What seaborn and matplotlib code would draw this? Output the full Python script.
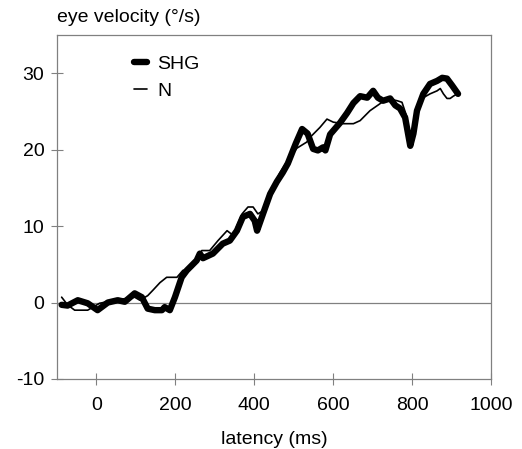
import matplotlib
matplotlib.use("Agg")
import matplotlib.pyplot as plt
import seaborn as sns
import pandas as pd

# SHG (thick) series: latency (ms) and eye velocity (deg/s)
shg_t = [-88, -73, -47, -22, 3, 29, 54, 72, 97, 115, 130, 148, 166, 173, 186, 199,
         216, 229, 254, 262, 270, 295, 320, 338, 356, 371, 389, 401, 407, 422, 440,
         457, 472, 485, 495, 505, 521, 535, 549, 561, 574, 580, 592, 617, 635, 651,
         668, 686, 701, 713, 726, 744, 757, 769, 782, 795, 803, 812, 828, 845, 863,
         876, 888, 901, 916]
shg_v = [-0.3, -0.4, 0.3, -0.1, -1.0, 0.0, 0.3, 0.1, 1.2, 0.7, -0.8, -1.0, -1.0, -0.6,
         -1.0, 0.7, 3.3, 4.2, 5.5, 6.4, 5.8, 6.4, 7.7, 8.1, 9.4, 11.2, 11.6, 10.7, 9.4,
         11.6, 14.2, 15.8, 17.0, 18.2, 19.5, 20.8, 22.7, 22.1, 20.1, 19.9, 20.3, 19.9,
         22.0, 23.5, 24.8, 26.1, 27.0, 26.8, 27.7, 26.8, 26.4, 26.7, 25.8, 25.4, 24.2,
         20.5, 22.1, 25.1, 27.3, 28.6, 29.0, 29.4, 29.3, 28.4, 27.3]

# N (thin) series
n_t = [-88, -73, -55, -22, 8, 46, 72, 97, 110, 130, 143, 161, 178, 204, 219, 244,
       267, 287, 308, 331, 346, 369, 384, 397, 409, 422, 440, 465, 490, 508, 533,
       541, 566, 584, 600, 625, 651, 668, 693, 718, 736, 762, 774, 785, 795, 805,
       812, 828, 845, 863, 871, 879, 888, 896, 904, 914]
n_v = [0.7, -0.3, -1.0, -1.0, -0.1, 0.3, 0.5, 0.7, 0.3, 0.9, 1.6, 2.6, 3.3, 3.3,
       4.2, 4.6, 6.8, 6.8, 8.1, 9.4, 8.8, 11.6, 12.5, 12.5, 11.6, 12.0, 14.2, 17.0,
       19.0, 20.2, 21.0, 21.6, 22.9, 24.0, 23.6, 23.4, 23.4, 23.8, 25.1, 26.0, 26.7,
       26.4, 26.2, 24.5, 21.0, 23.0, 25.0, 26.8, 27.3, 27.7, 28.0, 27.3, 26.7, 26.7,
       27.0, 27.3]

x_ticks = [0, 200, 400, 600, 800, 1000]
y_ticks = [-10, 0, 10, 20, 30]

sns.set_style("white")
plt.rcParams['font.family'] = ['Liberation Sans', 'DejaVu Sans']
plt.rcParams['axes.unicode_minus'] = False
plt.rcParams['text.color'] = 'black'
plt.rcParams['axes.labelcolor'] = 'black'

df_shg = pd.DataFrame({"latency": shg_t, "velocity": shg_v})
df_n = pd.DataFrame({"latency": n_t, "velocity": n_v})

fig = plt.figure(figsize=(5.22, 4.49), dpi=100)
ax = fig.add_axes([0.109, 0.156, 0.832, 0.766])

ax.axhline(0, color="#808080", lw=0.9, zorder=1)
sns.lineplot(data=df_n, x="latency", y="velocity", ax=ax, sort=False,
             color="black", lw=1.2, label="N", zorder=3)
sns.lineplot(data=df_shg, x="latency", y="velocity", ax=ax, sort=False,
             color="black", lw=4.6, label="SHG", zorder=2,
             solid_capstyle="round", solid_joinstyle="round")

ax.set_xlim(-100, 1000)
ax.set_ylim(-10, 35)
ax.set_xticks(x_ticks)
ax.set_yticks(y_ticks)
ax.tick_params(bottom=True, left=True, top=False, right=False,
               direction="inout", length=8, width=0.8, color="#808080",
               labelsize=14, labelcolor="black")
ax.tick_params(axis="x", pad=9)
ax.tick_params(axis="y", pad=5)
for s in ax.spines.values():
    s.set_color("#808080")
    s.set_linewidth(0.9)
    s.set_visible(True)

ax.set_xlabel("latency (ms)", fontsize=14, labelpad=12)
ax.set_ylabel("")
fig.text(0.109, 0.962, "eye velocity (°/s)", fontsize=14, ha="left", va="center")

h, l = ax.get_legend_handles_labels()
order = [l.index("SHG"), l.index("N")]
leg = ax.legend([h[i] for i in order], [l[i] for i in order], loc="upper left",
                bbox_to_anchor=(0.178, 0.94), frameon=False, fontsize=14,
                borderpad=0, borderaxespad=0,
                handlelength=0.65, handletextpad=0.55, labelspacing=0.45)

fig.savefig("out.png", dpi=100)
